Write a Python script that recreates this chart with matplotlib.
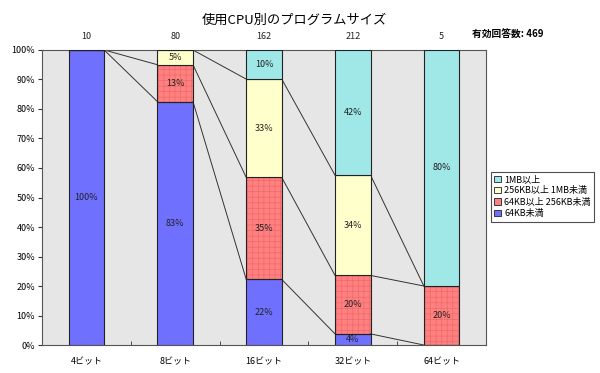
import matplotlib.pyplot as plt
import numpy as np

plt.rcParams['font.family'] = ['Noto Sans CJK JP', 'DejaVu Sans']
plt.rcParams['hatch.linewidth'] = 0.5

# answer counts per CPU class and program size
categories = ['4ビット', '8ビット', '16ビット', '32ビット', '64ビット']
under_64k = [10, 66, 36, 8, 0]
k64_256k = [0, 10, 56, 42, 1]
k256_1m = [0, 4, 54, 72, 0]
over_1m = [0, 0, 16, 90, 4]
totals = [10, 80, 162, 212, 5]
valid_answers = 469

series_names = ['64KB未満', '64KB以上 256KB未満', '256KB以上 1MB未満', '1MB以上']
colors = ['#7070FF', '#FF8080', '#FFFFCC', '#A0E8E8']

counts = np.array([under_64k, k64_256k, k256_1m, over_1m], dtype=float)
pct = counts / np.array(totals) * 100

fig = plt.figure(figsize=(6, 3.73), dpi=100)
ax = fig.add_axes([0.07, 0.075, 0.74, 0.791])
ax.set_facecolor('#E6E6E6')

x = np.arange(len(categories))
w = 0.4
bottom = np.zeros(len(categories))
handles = []
for k in range(4):
    if k == 1:
        # red segments carry a fine pattern
        ax.bar(x, pct[k], w, bottom=bottom, color=colors[k], edgecolor='#EE6A6A',
               hatch='+++', linewidth=0, zorder=2)
        ax.bar(x, pct[k], w, bottom=bottom, facecolor='none', edgecolor='#222222',
               linewidth=0.8, zorder=3)
    else:
        ax.bar(x, pct[k], w, bottom=bottom, color=colors[k], edgecolor='#222222',
               linewidth=0.8, zorder=3)
    h = plt.Rectangle((0, 0), 1, 1, facecolor=colors[k], edgecolor='#222222', linewidth=0.6)
    handles.append(h)
    for i in range(len(categories)):
        if pct[k][i] > 0:
            ax.text(x[i], bottom[i] + pct[k][i] / 2, f'{int(pct[k][i] + 0.5)}%',
                    ha='center', va='center', fontsize=6.5, color='#222222', zorder=4)
    bottom = bottom + pct[k]

# series lines between neighbouring bars
cum = np.cumsum(pct, axis=0)
for k in range(4):
    for i in range(len(categories) - 1):
        ax.plot([x[i] + w / 2, x[i + 1] - w / 2], [cum[k][i], cum[k][i + 1]],
                color='#333333', linewidth=0.7, zorder=2)

ax.set_xlim(-0.5, len(categories) - 0.5)
ax.set_ylim(0, 100)
ax.set_yticks(np.arange(0, 101, 10))
ax.set_yticklabels([f'{v}%' for v in range(0, 101, 10)], fontsize=6.5)
ax.set_xticks(x)
ax.set_xticklabels(categories, fontsize=6.5)
ax.tick_params(axis='x', length=0, pad=9)
ax.set_xticks(np.arange(0.5, len(categories) - 0.5, 1), minor=True)
ax.tick_params(axis='x', which='minor', length=3, direction='in', color='#333333')
ax.tick_params(axis='y', length=3, color='#333333', pad=2)
for s in ax.spines.values():
    s.set_color('#555555')
    s.set_linewidth(0.8)

for i in range(len(categories)):
    ax.text(x[i], 103, str(totals[i]), ha='center', va='bottom', fontsize=6.5, color='#222222')

fig.text(0.49, 0.945, '使用CPU別のプログラムサイズ', ha='center', va='center', fontsize=9.5)
fig.text(0.787, 0.908, f'有効回答数: {valid_answers}', ha='left', va='center',
         fontsize=7, fontweight='bold')

leg = fig.legend(handles[::-1], series_names[::-1], loc='upper left',
                 bbox_to_anchor=(0.818, 0.54), fontsize=6.5, frameon=True, fancybox=False,
                 handlelength=0.7, handleheight=0.7, handletextpad=0.4, borderpad=0.4,
                 labelspacing=0.25, borderaxespad=0)
leg.get_frame().set_edgecolor('#222222')
leg.get_frame().set_linewidth(0.8)

fig.savefig('out.png', dpi=100)
